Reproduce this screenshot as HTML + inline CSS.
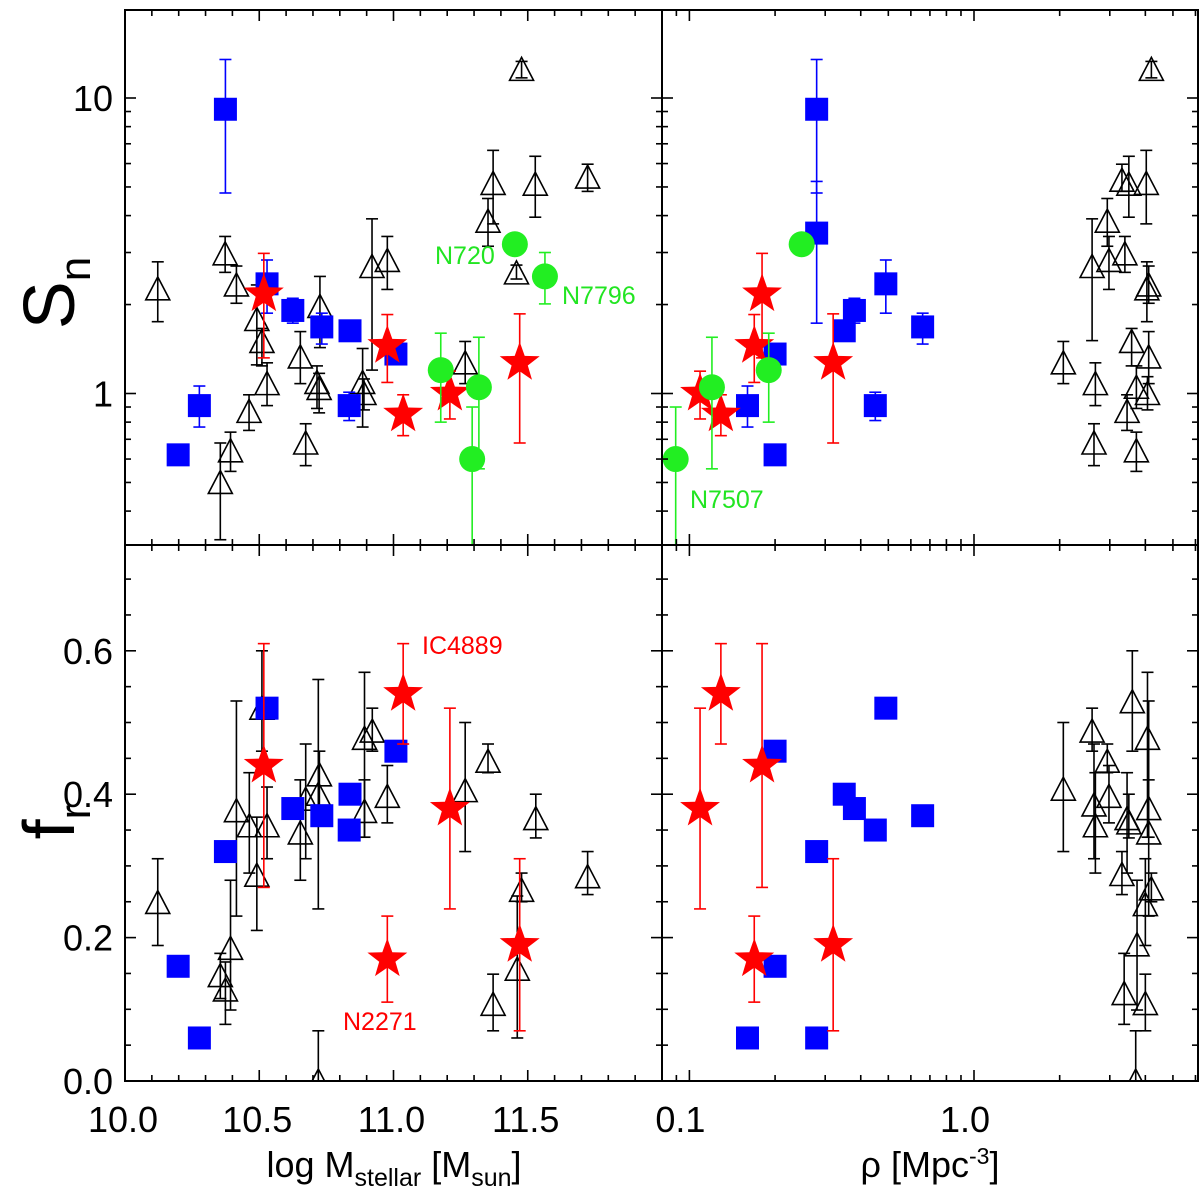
<!DOCTYPE html>
<html><head><meta charset="utf-8">
<style>
html,body{margin:0;padding:0;background:#fff;}
svg{display:block;font-family:"Liberation Sans",Arial,sans-serif;}
</style></head>
<body>
<svg id="chart" width="1200" height="1190" viewBox="0 0 1200 1190" xmlns="http://www.w3.org/2000/svg">
<rect x="0" y="0" width="1200" height="1190" fill="#fff"/>
<defs>
<clipPath id="cTL"><rect x="125" y="10" width="537" height="535"/></clipPath>
<clipPath id="cTR"><rect x="662" y="10" width="536" height="535"/></clipPath>
<clipPath id="cBL"><rect x="125" y="545" width="537" height="536"/></clipPath>
<clipPath id="cBR"><rect x="662" y="545" width="536" height="536"/></clipPath>
</defs>
<g id="marks"></g>
<g id="axes"></g>
<text transform="translate(74,293) rotate(-90)" font-size="72" text-anchor="middle" fill="#000">S<tspan font-size="44" dy="16">n</tspan></text>
<text transform="translate(74,822) rotate(-90)" font-size="72" text-anchor="middle" fill="#000">f<tspan font-size="44" dy="16">r</tspan></text>
<text x="394" y="1177" font-size="36" text-anchor="middle" fill="#000">log M<tspan font-size="25" dy="9">stellar</tspan><tspan dy="-9"> [M</tspan><tspan font-size="25" dy="9">sun</tspan><tspan dy="-9">]</tspan></text>
<text x="930" y="1177" font-size="36" text-anchor="middle" fill="#000">ρ [Mpc<tspan font-size="23" dy="-13">-3</tspan><tspan dy="13">]</tspan></text>
<text x="435" y="264" font-size="25" fill="#22e522">N720</text>
<text x="562" y="304" font-size="25" fill="#22e522">N7796</text>
<text x="690" y="508" font-size="25" fill="#22e522">N7507</text>
<text x="422" y="654" font-size="25" fill="#f00">IC4889</text>
<text x="343" y="1030" font-size="25" fill="#f00">N2271</text>
</svg>
<script>
// ---------- DATA ----------
const tlSqX=[10.374,10.529,10.625,10.733,10.838,11.009,10.277,10.198,10.835];
const tlSqY=[9.16,2.35,1.91,1.68,1.63,1.36,0.91,0.62,0.91];
const tlSqHi=[13.5,2.83,2.1,1.87,null,null,1.06,null,1.01];
const tlSqLo=[4.77,1.87,1.73,1.47,null,null,0.77,null,0.81];
const tlStX=[10.517,10.977,11.036,11.21,11.47];
const tlStY=[2.17,1.45,0.85,1.0,1.27];
const tlStHi=[2.98,1.85,0.99,1.19,1.86];
const tlStLo=[1.32,1.09,0.72,0.82,0.68];
const tlCiX=[11.452,11.564,11.176,11.318,11.293];
const tlCiY=[3.2,2.49,1.2,1.05,0.60];
const tlCiHi=[null,3.0,1.6,1.55,0.9];
const tlCiLo=[null,2.01,0.80,0.556,0.2];
const tlTrX=[10.122,10.373,10.415,10.491,10.51,10.529,10.462,10.393,10.355,10.653,10.726,10.715,10.723,10.673,10.885,10.89,10.92,10.977,11.267,11.352,11.371,11.458,11.528,11.723,11.477];
const tlTrY=[2.26,2.97,2.33,1.78,1.50,1.08,0.87,0.64,0.50,1.33,1.97,1.09,1.04,0.68,1.09,1.0,2.69,2.82,1.27,3.83,5.14,2.56,5.11,5.4,12.5];
const tlTrHi=[2.79,3.4,2.7,2.33,1.66,1.27,0.99,0.74,0.68,1.62,2.49,1.24,1.17,0.79,1.42,1.12,3.9,3.4,1.50,4.57,6.65,2.72,6.35,5.97,13.3];
const tlTrLo=[1.75,2.57,2.02,1.25,1.24,0.91,0.75,0.545,0.32,1.08,1.43,0.89,0.86,0.57,0.77,0.88,1.2,2.25,1.08,3.15,3.75,2.44,3.95,4.83,11.7];
const trSqX=[0.28,0.28,0.2,0.16,0.2,0.35,0.38,0.49,0.66,0.45];
const trSqY=[9.16,3.49,1.36,0.91,0.62,1.63,1.91,2.35,1.68,0.91];
const trSqHi=[13.5,5.22,null,1.06,null,null,2.1,2.83,1.87,1.01];
const trSqLo=[4.77,1.73,null,0.77,null,null,1.73,1.87,1.47,0.81];
const trStX=[0.18,0.169,0.109,0.129,0.32];
const trStY=[2.17,1.45,1.0,0.85,1.27];
const trStHi=[2.98,1.85,1.19,0.99,1.86];
const trStLo=[1.32,1.09,0.82,0.72,0.68];
const trCiX=[0.248,0.19,0.12,0.0895];
const trCiY=[3.2,1.2,1.05,0.60];
const trCiHi=[null,1.6,1.55,0.9];
const trCiLo=[null,0.8,0.556,0.2];
const trTrX=[4.2,3.31,3.5,4.03,2.94,2.6,2.98,3.39,4.05,4.11,2.06,2.67,3.58,4.11,3.72,4.07,3.45,2.64,3.72];
const trTrY=[12.5,5.27,5.11,5.14,3.83,2.69,2.82,2.97,2.26,2.33,1.27,1.08,1.50,1.33,1.05,1.0,0.87,0.68,0.64];
const trTrHi=[13.3,5.97,6.35,6.65,4.57,3.9,3.4,3.4,2.79,2.7,1.50,1.27,1.66,1.62,1.24,1.14,0.99,0.79,0.74];
const trTrLo=[11.7,4.83,3.95,3.75,3.15,1.51,2.25,2.57,1.75,2.02,1.08,0.91,1.24,1.08,0.89,0.88,0.75,0.57,0.545];
const blSqX=[10.529,10.374,10.625,10.733,10.838,10.835,11.009,10.198,10.277];
const blSqY=[0.52,0.32,0.38,0.37,0.40,0.35,0.46,0.16,0.06];
const blStX=[10.517,11.036,11.21,10.977,11.47];
const blStY=[0.44,0.54,0.38,0.17,0.19];
const blStHi=[0.61,0.61,0.52,0.23,0.31];
const blStLo=[0.27,0.47,0.24,0.11,0.07];
const blTrX=[10.122,10.51,10.415,10.463,10.529,10.491,10.393,10.355,10.374,10.653,10.673,10.724,10.72,10.72,10.892,10.921,10.892,10.977,11.267,11.352,11.53,11.723,11.477,11.461,11.371];
const blTrY=[0.249,0.52,0.377,0.356,0.356,0.287,0.185,0.147,0.127,0.346,0.393,0.427,0.40,0.0,0.478,0.488,0.376,0.397,0.405,0.446,0.366,0.285,0.266,0.156,0.107];
const blTrHi=[0.31,0.60,0.53,0.43,0.41,0.368,0.28,0.178,0.166,0.42,0.47,0.46,0.56,0.07,0.57,0.52,0.42,0.44,0.50,0.47,0.40,0.32,0.29,0.258,0.149];
const blTrLo=[0.189,0.46,0.23,0.29,0.31,0.21,0.099,0.115,0.079,0.28,0.31,0.38,0.24,-0.1,0.34,0.46,0.34,0.36,0.32,0.43,0.339,0.26,0.25,0.06,0.07];
const brSqX=[0.49,0.2,0.35,0.38,0.45,0.66,0.28,0.2,0.16,0.28];
const brSqY=[0.52,0.46,0.40,0.38,0.35,0.37,0.32,0.16,0.06,0.06];
const brStX=[0.129,0.109,0.18,0.169,0.32];
const brStY=[0.54,0.38,0.44,0.17,0.19];
const brStHi=[0.61,0.52,0.61,0.23,0.31];
const brStLo=[0.47,0.24,0.27,0.11,0.07];
const brTrX=[2.06,2.6,2.64,2.67,2.94,2.98,3.6,3.45,3.31,3.5,4.07,4.11,4.11,4.2,4.0,3.74,3.37,4.0,3.7];
const brTrY=[0.407,0.488,0.385,0.356,0.446,0.397,0.529,0.366,0.288,0.36,0.478,0.38,0.346,0.268,0.246,0.19,0.122,0.108,0.0];
const brTrHi=[0.50,0.52,0.47,0.43,0.47,0.44,0.60,0.43,0.32,0.40,0.57,0.42,0.53,0.29,0.31,0.28,0.178,0.149,0.07];
const brTrLo=[0.32,0.46,0.31,0.29,0.43,0.36,0.46,0.29,0.26,0.339,0.34,0.34,0.23,0.25,0.189,0.099,0.079,0.07,-0.1];
const massTickVals=[10.0,10.5,11.0,11.5];
const massTickLabels=["10.0","10.5","11.0","11.5"];
const rhoTickVals=[0.1,1.0];
const rhoTickLabels=["0.1","1.0"];
const snTickVals=[1,10];
const snTickLabels=["1","10"];
const frTickVals=[0.0,0.2,0.4,0.6];
const frTickLabels=["0.0","0.2","0.4","0.6"];

// ---------- AXES FUNCTIONS ----------
const NS="http://www.w3.org/2000/svg";
const xMass=v=>125+(v-10.0)*268.5;
const xRho=v=>689.4+(Math.log10(v)+1)*284.6;
const ySn=v=>98-(Math.log10(v)-1)*295.5;
const yFr=v=>1081-v*717;
const BLUE="#0000ff",RED="#ff0000",GREEN="#22ee22",BLACK="#000";
const marks=document.getElementById('marks');
const axes=document.getElementById('axes');
function mk(tag,attrs,parent){const e=document.createElementNS(NS,tag);for(const k in attrs)e.setAttribute(k,attrs[k]);parent.appendChild(e);return e;}
function panelGroup(id,name){const g=mk('g',{'clip-path':'url(#'+id+')'},marks);


return g;}
function errBar(g,px,yHi,yLo,color,clipTop,clipBot){
  if(yHi===null||yLo===null)return;
  mk('line',{x1:px,x2:px,y1:yHi,y2:yLo,stroke:color,'stroke-width':1.6},g);
  if(yHi>clipTop+1)mk('line',{x1:px-6,x2:px+6,y1:yHi,y2:yHi,stroke:color,'stroke-width':1.6},g);
  if(yLo<clipBot-1)mk('line',{x1:px-6,x2:px+6,y1:yLo,y2:yLo,stroke:color,'stroke-width':1.6},g);
}
function starPts(cx,cy,R,r){let p=[];for(let i=0;i<10;i++){const a=-Math.PI/2+i*Math.PI/5;const rr=i%2?r:R;p.push((cx+rr*Math.cos(a)).toFixed(1)+','+(cy+rr*Math.sin(a)).toFixed(1));}return p.join(' ');}
function drawSet(g,kind,xs,ys,his,los,fx,fy,clipTop,clipBot){
  for(let i=0;i<xs.length;i++){
    const px=fx(xs[i]),py=fy(ys[i]);
    const col=kind==='tri'?BLACK:kind==='sq'?BLUE:kind==='star'?RED:GREEN;
    if(his&&his[i]!==null&&los&&los[i]!==null){errBar(g,px,fy(his[i]),fy(los[i]),col,clipTop,clipBot);}
    let e;
    if(kind==='tri'){e=mk('polygon',{points:(px)+','+(py-12)+' '+(px-12)+','+(py+11)+' '+(px+12)+','+(py+11),fill:'none',stroke:BLACK,'stroke-width':1.6},g);
      }
    else if(kind==='sq'){e=mk('rect',{x:px-11.5,y:py-11.5,width:23,height:23,fill:BLUE},g);
      }
    else if(kind==='star'){e=mk('polygon',{points:starPts(px,py,21,8.5),fill:RED},g);
      }
    else {e=mk('circle',{cx:px,cy:py,r:13,fill:GREEN},g);
      }
    
  }
}
const gTL=panelGroup('cTL','panel-sn-mass');
drawSet(gTL,'tri',tlTrX,tlTrY,tlTrHi,tlTrLo,xMass,ySn,10,545);
drawSet(gTL,'sq',tlSqX,tlSqY,tlSqHi,tlSqLo,xMass,ySn,10,545);
drawSet(gTL,'star',tlStX,tlStY,tlStHi,tlStLo,xMass,ySn,10,545);
drawSet(gTL,'ci',tlCiX,tlCiY,tlCiHi,tlCiLo,xMass,ySn,10,545);
const gTR=panelGroup('cTR','panel-sn-density');
drawSet(gTR,'tri',trTrX,trTrY,trTrHi,trTrLo,xRho,ySn,10,545);
drawSet(gTR,'sq',trSqX,trSqY,trSqHi,trSqLo,xRho,ySn,10,545);
drawSet(gTR,'star',trStX,trStY,trStHi,trStLo,xRho,ySn,10,545);
drawSet(gTR,'ci',trCiX,trCiY,trCiHi,trCiLo,xRho,ySn,10,545);
const gBL=panelGroup('cBL','panel-fr-mass');
drawSet(gBL,'tri',blTrX,blTrY,blTrHi,blTrLo,xMass,yFr,545,1081);
drawSet(gBL,'sq',blSqX,blSqY,null,null,xMass,yFr,545,1081);
drawSet(gBL,'star',blStX,blStY,blStHi,blStLo,xMass,yFr,545,1081);
const gBR=panelGroup('cBR','panel-fr-density');
drawSet(gBR,'tri',brTrX,brTrY,brTrHi,brTrLo,xRho,yFr,545,1081);
drawSet(gBR,'sq',brSqX,brSqY,null,null,xRho,yFr,545,1081);
drawSet(gBR,'star',brStX,brStY,brStHi,brStLo,xRho,yFr,545,1081);

// ---------- FRAMES & TICKS ----------
function tickLine(x1,y1,x2,y2){mk('line',{x1:x1,y1:y1,x2:x2,y2:y2,stroke:'#000','stroke-width':1.6},axes);}
function xTicks(fx,vals,majorSet,top,bot,xl,xr){
  vals.forEach(v=>{const px=fx(v);if(px<xl+0.5||px>xr-0.5)return;const L=majorSet(v)?11:6;tickLine(px,top,px,top+L);tickLine(px,bot,px,bot-L);});
}
function yTicks(fy,vals,majorSet,xl,xr,yt,yb){
  vals.forEach(v=>{const py=fy(v);if(py<yt+0.5||py>yb-0.5)return;const L=majorSet(v)?11:6;tickLine(xl,py,xl+L,py);tickLine(xr,py,xr-L,py);});
}
const massMinor=[];for(let v=10.0;v<=12.001;v+=0.1)massMinor.push(Math.round(v*10)/10);
const isMassMajor=v=>Math.abs(v*2-Math.round(v*2))<1e-6;
const rhoMinor=[0.09];[1,10].forEach(d=>{for(let k=1;k<10;k++)rhoMinor.push(k*d/10);});
const isRhoMajor=v=>Math.abs(Math.log10(v)-Math.round(Math.log10(v)))<1e-6;
const snMinor=[];[0.1,1,10].forEach(d=>{for(let k=1;k<10;k++)snMinor.push(k*d);});
const isSnMajor=isRhoMajor;
const frMinor=[];for(let v=0;v<=0.75001;v+=0.05)frMinor.push(Math.round(v*100)/100);
const isFrMajor=v=>Math.abs(v*5-Math.round(v*5))<1e-6;
xTicks(xMass,massMinor,isMassMajor,10,545,125,662);yTicks(ySn,snMinor,isSnMajor,125,662,10,545);
xTicks(xRho,rhoMinor,isRhoMajor,10,545,662,1198);yTicks(ySn,snMinor,isSnMajor,662,1198,10,545);
xTicks(xMass,massMinor,isMassMajor,545,1081,125,662);yTicks(yFr,frMinor,isFrMajor,125,662,545,1081);
xTicks(xRho,rhoMinor,isRhoMajor,545,1081,662,1198);yTicks(yFr,frMinor,isFrMajor,662,1198,545,1081);
[[125,10,537,535],[662,10,536,535],[125,545,537,536],[662,545,536,536]].forEach(r=>{
  const f=mk('rect',{x:r[0],y:r[1],width:r[2],height:r[3],fill:'none',stroke:'#000','stroke-width':2},axes);
  
  
});
function label(x,y,txt,anchor,name){const t=mk('text',{x:x,y:y,'font-size':36,'text-anchor':anchor,fill:'#000'},axes);t.textContent=txt;

}
massTickVals.forEach((v,i)=>label(xMass(v)-2,1132,massTickLabels[i],'middle','x-tick-label-mass'));
rhoTickVals.forEach((v,i)=>label(xRho(v)-9,1132,rhoTickLabels[i],'middle','x-tick-label-density'));
snTickVals.forEach((v,i)=>label(113,ySn(v)+13,snTickLabels[i],'end','y-tick-label-sn'));
frTickVals.forEach((v,i)=>label(113,yFr(v)+13,frTickLabels[i],'end','y-tick-label-fr'));
</script>
</body></html>
